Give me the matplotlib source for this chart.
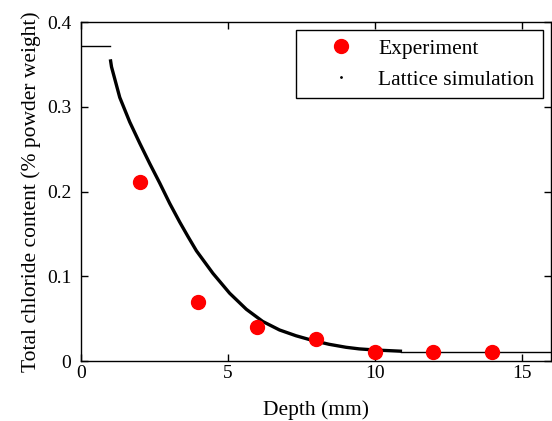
import matplotlib
matplotlib.use("Agg")
import matplotlib.pyplot as plt

plt.rcParams['font.family'] = ['Liberation Serif', 'DejaVu Serif']

# experiment points
exp_depth = [2, 4, 6, 8, 10, 12, 14]
exp_cl = [0.211, 0.070, 0.0405, 0.026, 0.0103, 0.0103, 0.0103]

# lattice simulation profile (read along the centre of the dot band)
sim_depth = [1.0, 1.04, 1.32, 1.66, 2.00, 2.34, 2.68, 3.02, 3.36, 3.64, 3.93,
             4.49, 5.06, 5.63, 6.19, 6.76, 7.32, 7.89, 8.45, 9.02, 9.47,
             10.0, 10.5, 10.93]
sim_cl = [0.356, 0.347, 0.311, 0.282, 0.257, 0.233, 0.210, 0.186, 0.164,
          0.147, 0.130, 0.1035, 0.080, 0.061, 0.0466, 0.0366, 0.0298, 0.0242,
          0.0197, 0.0162, 0.0143, 0.013, 0.0122, 0.0115]

# boundary lines
surf_depth = [0, 1]
surf_cl = [0.372, 0.372]
bg_depth = [10.9, 16]
bg_cl = [0.0103, 0.0103]

xticks = [0, 5, 10, 15]
yticks = [0, 0.1, 0.2, 0.3, 0.4]
ylabels = ["0", "0.1", "0.2", "0.3", "0.4"]

fig = plt.figure(figsize=(5.52, 4.21), dpi=100)
ax = fig.add_axes([0.1467, 0.1425, 0.8515, 0.8052])

ax.plot(surf_depth, surf_cl, color='k', lw=1.0)
ax.plot(bg_depth, bg_cl, color='k', lw=1.0)
ax.plot(sim_depth, sim_cl, color='k', lw=2.4, solid_capstyle='butt',
        solid_joinstyle='round', label='Lattice simulation')
ax.plot(exp_depth, exp_cl, 'o', color='#ff0000', ms=10, mec='#ff0000',
        label='Experiment', zorder=3)

ax.set_xlim(0, 16)
ax.set_ylim(0, 0.4)
ax.set_xticks(xticks)
ax.set_yticks(yticks)
ax.set_yticklabels(ylabels)
ax.tick_params(direction='in', length=5, width=1, top=True, right=True,
               labelsize=14)
ax.tick_params(axis='x', pad=3)
ax.tick_params(axis='y', pad=7)
for s in ax.spines.values():
    s.set_linewidth(1.0)

ax.set_xlabel('Depth (mm)', fontsize=15.5, labelpad=13)
ax.set_ylabel('Total chloride content (% powder weight)', fontsize=15.5,
              labelpad=4)

h, l = ax.get_legend_handles_labels()
leg = ax.legend([h[1], h[0]], [l[1], l[0]], loc='upper right',
                bbox_to_anchor=(0.983, 0.976), fontsize=15.5, frameon=True,
                fancybox=False, edgecolor='k', framealpha=1,
                borderaxespad=0, handlelength=3.3, handletextpad=0.1,
                borderpad=0.4, labelspacing=0.5)
leg.get_frame().set_linewidth(1.0)
ln = leg.get_lines()[1]
ln.set_linestyle('none')
ln.set_marker('.')
ln.set_markersize(2)
ln.set_color('k')

fig.savefig('out.png', dpi=100)
